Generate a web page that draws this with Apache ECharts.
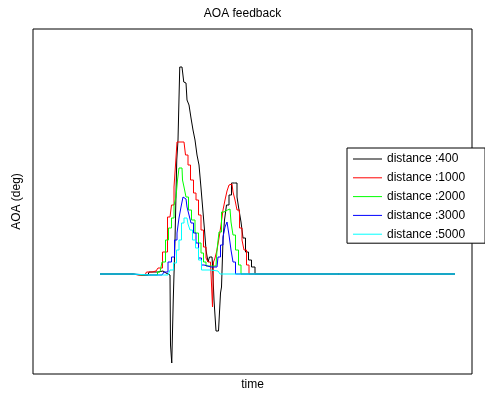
<!DOCTYPE html>
<html>
<head>
<meta charset="utf-8">
<script src="https://cdn.jsdelivr.net/npm/echarts@6/dist/echarts.min.js"></script>
<style>html,body{margin:0;padding:0;background:#fff;}#c{width:485px;height:396px;}</style>
</head>
<body>
<div id="c"></div>
<script>
// series names
var seriesNames = ['distance :400', 'distance :1000', 'distance :2000', 'distance :3000', 'distance :5000'];
// [time, AOA] pairs
var d400 = [[6.7,0],[9.9,0],[10.0,-0.1],[11.5,-0.1],[11.7,0.2],[12.5,0.2],[12.7,0.3],[13.3,0.1],[13.7,-0.1],[13.8,-7.1],[13.95,-8.9],[14.1,-2.6],[14.3,3.4],[14.45,11.4],[14.55,13.4],[14.8,20.7],[15.0,20.7],[15.15,19.2],[15.3,19.1],[15.5,17.4],[15.7,16.9],[15.9,15.6],[16.1,14.4],[16.3,13.4],[16.5,11.9],[16.7,10.9],[16.9,8.6],[17.1,6.2],[17.2,4.4],[17.4,2.4],[17.6,1.2],[17.7,1.7],[17.9,1.7],[18.0,0.9],[18.2,-2.6],[18.4,-5.7],[18.7,-5.7],[18.8,-1.9],[18.9,-1.3],[19.1,3.4],[19.2,5.4],[19.5,6.9],[19.7,7.9],[20.0,9.1],[20.3,9.1],[20.5,7.7],[20.7,6.4],[20.9,5.2],[21.1,3.6],[21.4,2.2],[21.7,1.4],[22.0,0.7],[22.4,0],[42.2,0]];
var d1000 = [[6.7,0],[9.9,0],[10.0,-0.1],[11.2,-0.1],[11.5,0.2],[12.3,0.3],[12.7,0.6],[13.2,2.2],[13.7,5.7],[14.0,6.9],[14.2,8.7],[14.3,10.9],[14.5,13.2],[15.1,13.2],[15.4,11.9],[15.6,10.9],[15.9,9.4],[16.2,8.1],[16.4,7.4],[16.7,5.9],[16.9,4.4],[17.2,2.7],[17.4,1.6],[17.6,1.2],[17.9,1.2],[18.0,-3.3],[18.1,1.2],[18.3,1.6],[18.5,2.4],[18.7,3.6],[18.9,4.9],[19.1,6.4],[19.3,7.4],[19.5,8.3],[19.7,8.9],[19.9,9.0],[20.1,8.2],[20.3,7.4],[20.5,6.4],[20.8,4.6],[21.0,3.4],[21.2,2.4],[21.5,0.9],[21.7,0],[42.2,0]];
var d2000 = [[6.7,0],[9.9,0],[10.0,-0.1],[12.2,-0.1],[12.7,0.2],[13.1,1.2],[13.4,3.4],[13.7,4.6],[14.0,5.6],[14.2,6.9],[14.4,7.7],[14.5,9.4],[14.7,10.6],[14.9,10.6],[15.0,9.4],[15.2,8.7],[15.4,7.7],[15.7,6.4],[16.0,5.4],[16.4,4.1],[16.7,3.1],[16.9,2.1],[17.2,1.2],[17.4,0.8],[18.3,0.8],[18.5,2.4],[18.7,4.2],[19.0,6.2],[19.2,6.4],[19.7,6.5],[19.9,5.2],[20.1,3.9],[20.4,2.4],[20.7,0.9],[20.9,0],[42.2,0]];
var d3000 = [[6.7,0],[9.9,0],[10.0,-0.1],[12.9,-0.1],[13.3,0.2],[13.7,1.2],[14.0,1.7],[14.3,3.4],[14.5,4.1],[14.7,5.6],[14.9,6.7],[15.1,7.7],[15.3,7.5],[15.5,6.7],[15.7,5.9],[15.9,5.1],[16.2,4.1],[16.4,3.1],[16.7,1.6],[17.0,0.9],[17.2,0.7],[18.4,0.7],[18.6,1.7],[18.9,2.9],[19.1,3.7],[19.3,4.7],[19.5,5.2],[19.7,3.9],[19.9,2.4],[20.1,1.2],[20.4,0],[42.2,0]];
var d5000 = [[6.7,0],[9.9,0],[10.0,-0.1],[13.5,-0.1],[13.9,0.4],[14.2,1.1],[14.5,2.4],[14.7,3.4],[15.0,5.1],[15.2,5.6],[15.4,5.6],[15.6,5.0],[15.8,4.4],[16.1,3.4],[16.4,2.6],[16.7,1.4],[17.0,0.4],[18.5,0.3],[18.9,0],[42.2,0]];
var seriesData = [d400, d1000, d2000, d3000, d5000];
var seriesColors = ['#000000', '#ff0000', '#00ff00', '#0000ff', '#00ffff'];

var chart = echarts.init(document.getElementById('c'), null, {renderer: 'canvas'});
var font = 'Liberation Sans, Arial, sans-serif';
chart.setOption({
  animation: false,
  backgroundColor: '#ffffff',
  title: {
    text: 'AOA feedback', left: 'center', top: 3,
    textStyle: {fontSize: 12, fontWeight: 'normal', color: '#000', fontFamily: font}
  },
  legend: {
    orient: 'vertical', left: 347, top: 148,
    data: seriesNames.map(function (n, i) {
      return {name: n, itemStyle: {color: seriesColors[i], borderWidth: 0}};
    }),
    icon: 'rect', itemWidth: 29, itemHeight: 1, itemGap: 6.8,
    padding: [5, 20, 3, 6],
    backgroundColor: '#ffffff', borderColor: '#000', borderWidth: 1, borderRadius: 0,
    textStyle: {fontSize: 12, color: '#000', fontFamily: font},
    selectedMode: false
  },
  grid: {left: 33, top: 29, width: 439, height: 345, show: true, borderColor: '#000', borderWidth: 1, backgroundColor: '#fff'},
  xAxis: {
    type: 'value', min: 0, max: 43.9,
    name: 'time', nameLocation: 'middle', nameGap: 5,
    nameTextStyle: {fontSize: 12, color: '#000', fontFamily: font},
    axisLine: {show: false}, axisTick: {show: false}, axisLabel: {show: false}, splitLine: {show: false}
  },
  yAxis: {
    type: 'value', min: -10, max: 24.5,
    name: 'AOA (deg)', nameLocation: 'middle', nameGap: 10,
    nameTextStyle: {fontSize: 12, color: '#000', fontFamily: font},
    axisLine: {show: false}, axisTick: {show: false}, axisLabel: {show: false}, splitLine: {show: false}
  },
  series: seriesNames.map(function (n, i) {
    return {
      name: n, type: 'line', data: seriesData[i], symbol: 'none', smooth: false, step: 'middle',
      itemStyle: {color: seriesColors[i]},
      lineStyle: {width: 1, color: seriesColors[i]}
    };
  })
});
</script>
</body>
</html>
